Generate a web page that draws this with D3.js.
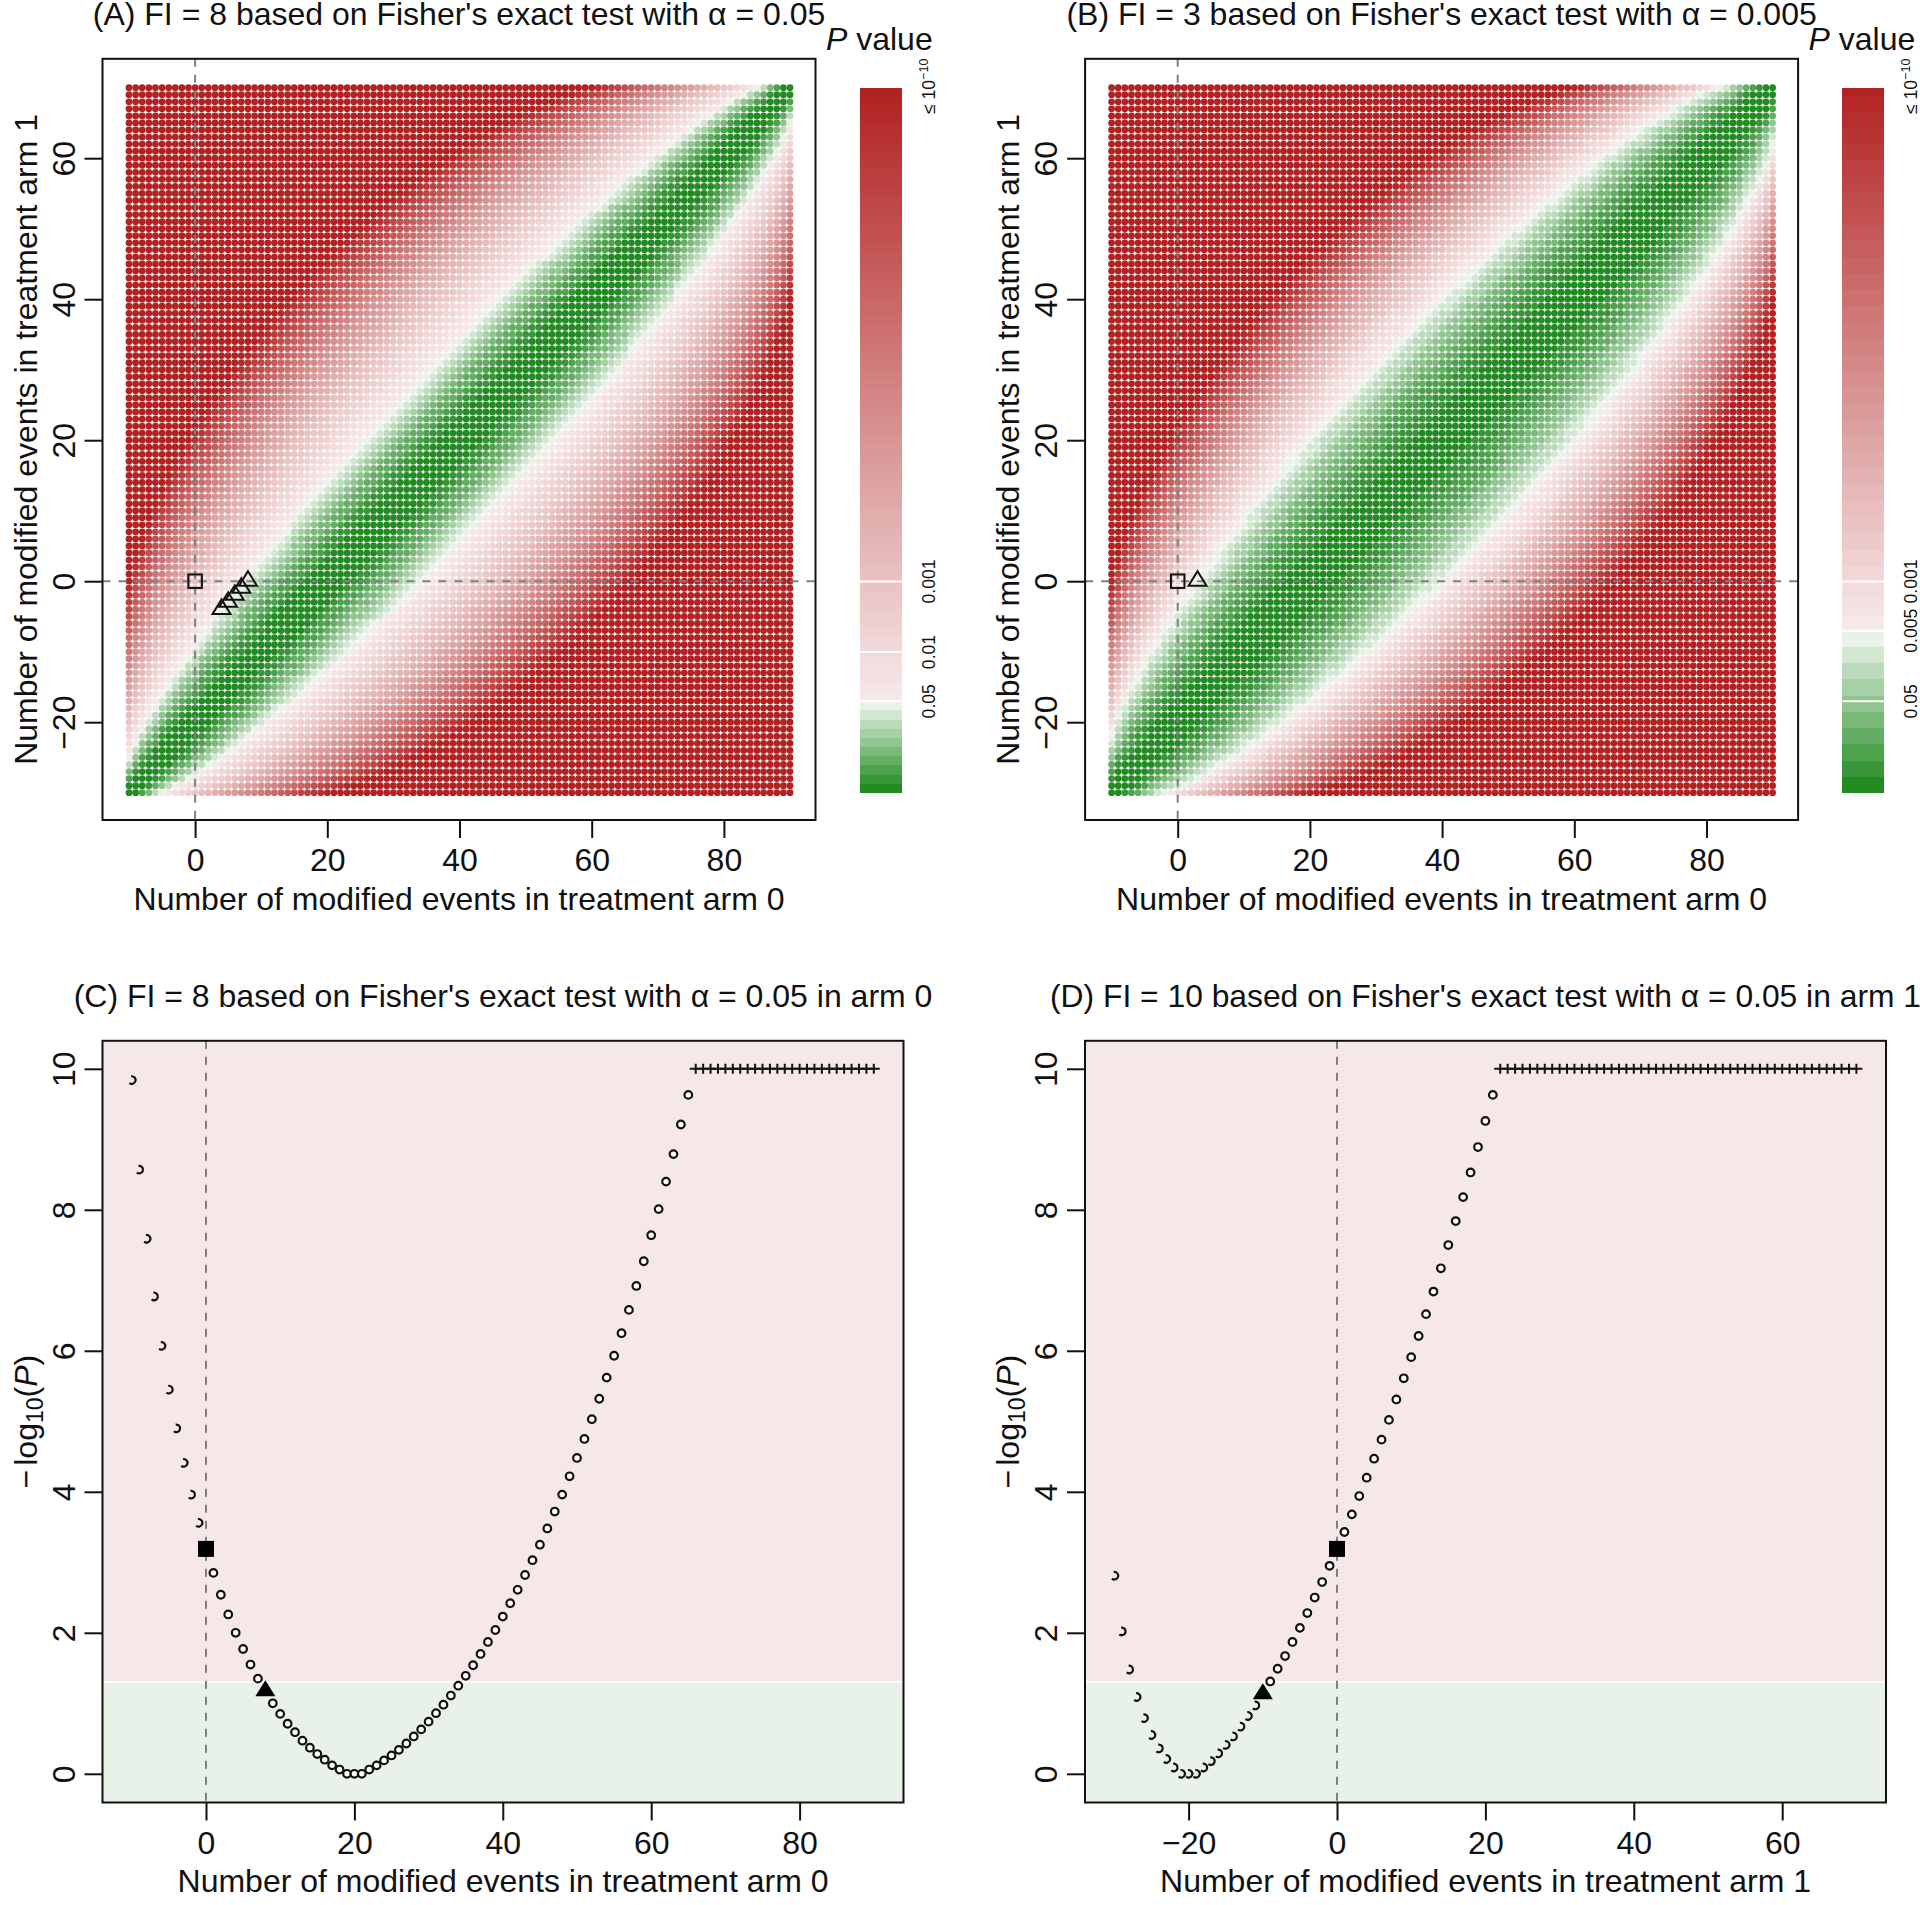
<!DOCTYPE html>
<html><head><meta charset="utf-8">
<script src="https://cdn.jsdelivr.net/npm/d3@7"></script>
<style>html,body{margin:0;background:#fff}svg{display:block}text{font-family:"Liberation Sans",Arial,sans-serif;fill:#111}</style>
</head><body><svg id="c" width="1920" height="1905"></svg>
<script>
const arm0Events = 10, arm1Events = 30, armSize = 100;
// -log10(P) x 100 for a events vs b events, row a, entries b = a, a+1, ... A missing entry means P <= 1e-10.
// The reference is mirror-symmetric, so only one quarter is listed. NOTE: these were not read off cell by cell:
// they were worked out beforehand with Fisher's exact test on 10/100 vs 30/100 and checked against the picture
// (square at 3.18, last circles, where the + marks start).
const neglogP = [
[0,0,30,61,92,123,154,185,217,249,281,314,346,379,413,446,480,514,548,583,618,653,689,724,760,797,834,871,908,946,984],
[0,0,21,43,67,93,119,146,173,202,230,260,289,319,350,381,413,445,477,509,542,576,610,644,679,713,749,785,821,857,894,932,969],
[0,0,17,35,55,77,100,123,148,173,200,226,254,282,310,339,369,399,429,460,492,524,556,589,622,656,690,724,759,794,830,867,903,941,978],
[0,0,14,30,48,67,87,109,131,154,178,203,228,255,281,309,337,365,394,423,453,484,515,547,579,611,644,677,711,746,780,816,852,888,925,962,1000],
[0,0,13,27,43,60,79,98,119,140,162,185,209,234,259,285,311,338,366,394,423,452,482,513,544,575,607,639,672,706,740,774,809,844,880,917,954,992],
[0,0,12,25,39,55,72,90,109,129,150,172,194,217,241,266,291,317,343,371,398,426,455,485,515,545,576,608,640,672,705,739,773,808,843,879,915,952,990],
[0,0,11,23,36,51,67,83,101,120,140,160,182,204,227,250,274,299,325,351,377,405,432,461,490,520,550,580,612,644,676,709,742,776,811,846,882,918,955,993],
[0,0,10,21,34,47,62,78,95,113,132,151,171,192,214,237,260,284,308,334,359,386,413,441,469,498,527,557,588,619,650,683,716,749,783,818,853,889,925,962,1000],
[0,0,9,20,32,45,59,74,90,107,125,143,163,183,204,225,248,271,295,319,344,370,396,423,450,479,507,537,566,597,628,660,692,725,758,792,827,862,898,935,972],
[0,0,9,19,30,43,56,70,85,102,119,136,155,175,195,216,237,260,283,306,331,356,381,407,434,462,490,518,548,578,608,639,671,703,736,770,804,839,875,911,947,985],
[0,0,9,18,29,41,53,67,82,97,113,131,149,167,187,207,228,250,272,295,319,343,368,394,420,447,474,502,531,561,591,621,652,684,717,750,784,818,853,889,926,963],
[0,0,8,17,28,39,51,64,78,93,109,125,143,161,180,199,220,241,263,285,308,332,356,381,407,433,460,488,516,545,575,605,636,667,699,732,765,800,834,870,906,943,980],
[0,0,8,17,27,37,49,62,75,90,105,121,138,155,174,193,213,233,254,276,299,322,346,370,396,421,448,475,503,531,561,590,621,652,684,716,749,783,817,852,888,925,962],
[0,0,8,16,26,36,48,60,73,87,101,117,133,150,168,187,206,226,247,268,290,313,336,361,385,411,437,464,491,519,548,577,607,638,669,701,734,768,802,837,872,909,946,984],
[0,0,7,16,25,35,46,58,71,84,98,113,129,146,163,181,200,220,240,261,283,305,328,352,376,401,427,453,480,508,536,565,595,625,656,688,721,754,788,823,858,894,931,969],
[0,0,7,15,24,34,45,56,68,82,96,110,126,142,159,177,195,214,234,255,276,298,320,344,368,392,418,444,470,498,526,554,584,614,645,676,709,742,775,810,845,881,918,956,994],
[0,0,7,15,24,33,43,55,67,79,93,107,122,138,155,172,190,209,228,249,270,291,313,336,360,384,409,435,461,488,516,544,574,604,634,665,698,730,764,798,833,869,906,944,982],
[0,0,7,15,23,32,42,53,65,77,91,105,119,135,151,168,186,204,223,243,264,285,307,330,353,377,402,427,453,480,507,536,564,594,625,656,688,720,754,788,823,859,895,933,971],
[0,0,7,14,22,32,41,52,63,76,89,102,117,132,148,165,182,200,219,238,259,280,301,324,347,370,395,420,446,472,499,527,556,586,616,647,679,711,744,778,813,849,886,923,962],
[0,0,7,14,22,31,40,51,62,74,87,100,114,129,145,161,178,196,215,234,254,275,296,318,341,364,388,413,439,465,492,520,549,578,608,639,670,703,736,770,805,841,877,915,953,992],
[0,0,6,14,22,30,40,50,61,73,85,98,112,127,142,158,175,193,211,230,250,270,291,313,335,359,383,407,433,459,486,513,542,571,601,632,663,695,728,762,797,833,870,907,946,985],
[0,0,6,13,21,30,39,49,60,71,83,96,110,125,140,156,172,189,207,226,246,266,287,308,331,354,377,402,427,453,480,507,536,565,594,625,656,689,722,756,791,826,863,901,939,979],
[0,0,6,13,21,29,38,48,59,70,82,95,108,122,137,153,169,186,204,223,242,262,283,304,326,349,373,397,422,448,474,502,530,559,589,619,651,683,716,750,785,821,857,895,934,974],
[0,0,6,13,20,29,38,47,58,69,81,93,107,121,135,151,167,184,201,220,239,259,279,300,322,345,368,392,417,443,470,497,525,554,583,614,645,678,711,745,780,816,852,890,929,969],
[0,0,6,13,20,28,37,47,57,68,79,92,105,119,133,149,165,181,199,217,236,255,276,297,319,341,364,388,413,439,465,492,520,549,579,609,641,673,706,740,775,811,848,886,926,966],
[0,0,6,13,20,28,37,46,56,67,78,91,104,117,132,147,162,179,196,214,233,252,273,294,315,338,361,385,410,435,461,489,516,545,575,605,637,669,702,737,772,808,845,883,923,963],
[0,0,6,12,20,27,36,45,55,66,77,89,102,116,130,145,161,177,194,212,230,250,270,291,312,335,358,382,406,432,458,485,513,542,571,602,633,666,699,733,769,805,843,881,921,961],
[0,0,6,12,19,27,36,45,55,65,76,88,101,114,128,143,159,175,192,210,228,247,267,288,310,332,355,379,403,429,455,482,510,539,568,599,631,663,697,731,767,803,841,879,919,961],
[0,0,6,12,19,27,35,44,54,64,76,87,100,113,127,142,157,173,190,208,226,245,265,286,307,329,352,376,401,426,452,479,507,536,566,597,628,661,695,729,765,802,840,879,919],
[0,0,6,12,19,27,35,44,53,64,75,86,99,112,126,140,156,172,189,206,224,243,263,284,305,327,350,374,398,424,450,477,505,534,564,595,627,659,693,728,764,801,839],
[0,0,6,12,19,26,34,43,53,63,74,86,98,111,125,139,154,170,187,204,223,242,261,282,303,325,348,372,396,422,448,475,503,532,562,593,625,658,692,727,764],
[0,0,6,12,19,26,34,43,52,63,73,85,97,110,124,138,153,169,186,203,221,240,260,280,301,324,346,370,395,420,447,474,502,531,561,592,625,658,692],
[0,0,6,12,18,26,34,43,52,62,73,84,96,109,123,137,152,168,184,202,220,239,258,279,300,322,345,369,393,419,445,473,501,530,561,592,624],
[0,0,5,12,18,26,34,42,52,62,72,84,96,108,122,136,151,167,183,201,219,238,257,278,299,321,344,368,392,418,445,472,500,530,560],
[0,0,5,11,18,25,33,42,51,61,72,83,95,108,121,135,150,166,183,200,218,237,256,277,298,320,343,367,392,417,444,472,500],
[0,0,5,11,18,25,33,42,51,61,71,83,94,107,121,135,150,165,182,199,217,236,255,276,297,319,342,366,391,417,444],
[0,0,5,11,18,25,33,41,51,60,71,82,94,107,120,134,149,165,181,198,216,235,255,275,297,319,342,366,391],
[0,0,5,11,18,25,33,41,50,60,71,82,94,106,120,134,148,164,181,198,216,235,254,275,296,319,342],
[0,0,5,11,18,25,33,41,50,60,70,81,93,106,119,133,148,164,180,197,215,234,254,275,296],
[0,0,5,11,18,25,32,41,50,60,70,81,93,105,119,133,148,163,180,197,215,234,254],
[0,0,5,11,18,25,32,41,50,59,70,81,93,105,119,133,148,163,180,197,215],
[0,0,5,11,17,25,32,41,50,59,70,81,92,105,118,132,147,163,180],
[0,0,5,11,17,24,32,40,49,59,69,81,92,105,118,132,147],
[0,0,5,11,17,24,32,40,49,59,69,80,92,105,118],
[0,0,5,11,17,24,32,40,49,59,69,80,92],
[0,0,5,11,17,24,32,40,49,59,69],
[0,0,5,11,17,24,32,40,49],
[0,0,5,11,17,24,32],
[0,0,5,11,17],
[0,0,5],
[0]];

const titles = ["(A) FI = 8 based on Fisher's exact test with α = 0.05","(B) FI = 3 based on Fisher's exact test with α = 0.005",
  "(C) FI = 8 based on Fisher's exact test with α = 0.05 in arm 0","(D) FI = 10 based on Fisher's exact test with α = 0.05 in arm 1"];
const xLabel0 = "Number of modified events in treatment arm 0", xLabel1 = "Number of modified events in treatment arm 1";
const yLabelMap = "Number of modified events in treatment arm 1";
const mapXTicks = [0,20,40,60,80], mapYTicks = [-20,0,20,40,60];
const pTicks = [0,2,4,6,8,10], arm0Ticks = [0,20,40,60,80], arm1Ticks = [-20,0,20,40,60];
const alphaA = 0.05, alphaB = 0.005;
const barLabelsA = [["0.05",0.05],["0.01",0.01],["0.001",0.001]];
const barLabelsB = [["0.05",0.05],["0.005",0.005],["0.001",0.001]];
const trianglesA = [[8,0],[7,-1],[6,-2],[5,-3],[4,-4]];
const trianglesB = [[3,0]];
const fiArm0 = 8, fiArm1 = -10;
const firstFullArm0 = 0, firstFullArm1 = -10;   // left of these the reference's circles are only crescents

function level(a,b){ let lo=Math.min(a,b), hi=Math.max(a,b);
  if(lo+hi>armSize){ [lo,hi]=[armSize-hi,armSize-lo]; }
  const v=neglogP[lo][hi-lo]; return v===undefined?1000:Math.min(v,1000); }
const logP=(x,y)=>level(x+arm0Events,y+arm1Events)/100;

const GREEN_DARK="#228b22", GREEN_PALE="#e8f2e8", RED_PALE="#f6e8e8", RED_DARK="#b22222";
const greens=d3.interpolateRgb(GREEN_DARK,GREEN_PALE), reds=d3.interpolateRgb(RED_PALE,RED_DARK);
function bandsFor(alpha){ const cut=-Math.log10(alpha), step=cut/10, n=Math.ceil((10-cut)/step);
  const out=[]; for(let i=0;i<10;i++)out.push({lo:i*step,hi:(i+1)*step,c:greens(i/9)});
  for(let i=0;i<n;i++)out.push({lo:cut+i*step,hi:Math.min(10,cut+(i+1)*step),c:reds(i/(n-1))});
  return {cut,step,n,out}; }
function fillOf(v,b){ if(v<b.cut)return greens(Math.min(9,Math.floor(v/b.step))/9);
  return reds(Math.min(b.n-1,Math.floor((v-b.cut)/b.step))/(b.n-1)); }

const svg=d3.select("#c");
const FS=32;
function axes(g,x,y,xt,yt,H){
  const tk=18;
  const gx=g.append("g").attr("transform",`translate(0,${H})`).call(d3.axisBottom(x).tickValues(xt).tickSize(tk).tickFormat(d3.format("d")));
  gx.select(".domain").remove(); gx.selectAll("line").attr("stroke","#111").attr("stroke-width",2);
  gx.selectAll("text").attr("y",51).attr("dy",0).attr("font-size",FS).attr("font-family","Liberation Sans").style("fill","#111");
  const gy=g.append("g").call(d3.axisLeft(y).tickValues(yt).tickSize(tk).tickFormat(d3.format("d")));
  gy.select(".domain").remove(); gy.selectAll("line").attr("stroke","#111").attr("stroke-width",2);
  gy.selectAll("text").attr("transform","rotate(-90)").attr("x",0).attr("y",-28).attr("dy",0).attr("text-anchor","middle")
    .attr("font-size",FS).attr("font-family","Liberation Sans").style("fill","#111");
}
function dashes(g,W,H,px,py){
  if(px!==null)g.append("line").attr("x1",px).attr("x2",px).attr("y1",0).attr("y2",H).attr("stroke","#808080").attr("stroke-width",2).attr("stroke-dasharray","8 8");
  if(py!==null)g.append("line").attr("x1",0).attr("x2",W).attr("y1",py).attr("y2",py).attr("stroke","#808080").attr("stroke-width",2).attr("stroke-dasharray","8 8");
}
const box=(g,W,H)=>g.append("rect").attr("width",W).attr("height",H).attr("fill","none").attr("stroke","#111").attr("stroke-width",2);
const tri=(s,h1,h2)=>`M0,${-h1}L${s},${h2}L${-s},${h2}Z`;

function mapPanel(dx,title,alpha,labels,tris){
  const L=102.5+dx,T=58.8,W=713,H=761.2;
  const g=svg.append("g").attr("transform",`translate(${L},${T})`);
  const x=d3.scaleLinear().domain([-10,90]).range([129-102.5,790-102.5]);
  const y=d3.scaleLinear().domain([-30,70]).range([792.7-T,87.7-T]);
  const b=bandsFor(alpha);
  const cells=[]; for(const xv of d3.range(-10,91)) for(const yv of d3.range(-30,71)) cells.push([xv,yv]);
  g.append("g").selectAll("circle").data(cells).join("circle").attr("cx",d=>x(d[0])).attr("cy",d=>y(d[1])).attr("r",3.4).attr("fill",d=>fillOf(logP(d[0],d[1]),b));
  dashes(g,W,H,x(0),y(0));
  g.append("rect").attr("x",x(0)-6.75).attr("y",y(0)-6.75).attr("width",13.5).attr("height",13.5).attr("fill","none").attr("stroke","#111").attr("stroke-width",2);
  g.append("g").selectAll("path").data(tris).join("path").attr("d",tri(9,10,4.5)).attr("transform",d=>`translate(${x(d[0])},${y(d[1])})`).attr("fill","none").attr("stroke","#111").attr("stroke-width",2);
  box(g,W,H); axes(g,x,y,mapXTicks,mapYTicks,H);
  svg.append("text").attr("x",L+W/2).attr("y",25).attr("text-anchor","middle").attr("font-size",FS).text(title);
  svg.append("text").attr("x",L+W/2).attr("y",T+H+90).attr("text-anchor","middle").attr("font-size",FS).text(xLabel0);
  svg.append("text").attr("transform",`translate(${L-66},${T+H/2}) rotate(-90)`).attr("text-anchor","middle").attr("font-size",FS).text(yLabelMap);
  // colour bar
  const bar=d3.scaleLinear().domain([0,10]).range([793,88]), bx=859.7+dx, bw=42;
  svg.append("g").selectAll("rect").data(b.out).join("rect").attr("x",bx).attr("width",bw).attr("y",d=>bar(d.hi)).attr("height",d=>bar(d.lo)-bar(d.hi)).attr("fill",d=>d.c).attr("shape-rendering","crispEdges");
  for(const [t,p] of labels){ const v=-Math.log10(p);
    svg.append("line").attr("x1",bx).attr("x2",bx+bw).attr("y1",bar(v)).attr("y2",bar(v)).attr("stroke","#fff").attr("stroke-width",2);
    svg.append("text").attr("transform",`translate(${934.7+dx},${bar(v)}) rotate(-90)`).attr("text-anchor","middle").attr("font-size",17.6).text(t);
  }
  const top=svg.append("text").attr("transform",`translate(${934.7+dx},114) rotate(-90)`).attr("font-size",17.6);
  top.append("tspan").text("≤ 10"); top.append("tspan").attr("dy",-7).attr("font-size",12.5).text("−10");
  const pv=svg.append("text").attr("x",932.7+dx).attr("y",50).attr("text-anchor","end").attr("font-size",FS);
  pv.append("tspan").attr("font-style","italic").text("P"); pv.append("tspan").text(" value");
}

function curvePanel(L,title,titleSize,label,domain,xt,series,fi,firstFull){
  const T=1040.8,W=801,H=761.7;
  const g=svg.append("g").attr("transform",`translate(${L},${T})`);
  const pxu=7.42, zero=domain.zero;
  const x=d3.scaleLinear().domain([domain.from,domain.to]).range([zero+domain.from*pxu,zero+domain.to*pxu]);
  const y=d3.scaleLinear().domain([0,10]).range([1773.8-T,1068.8-T]);
  const yc=y(-Math.log10(alphaA));
  g.append("rect").attr("width",W).attr("height",yc).attr("fill","#f6e8e8");
  g.append("rect").attr("y",yc).attr("width",W).attr("height",H-yc).attr("fill","#e8f2e8");
  g.append("line").attr("x1",0).attr("x2",W).attr("y1",yc).attr("y2",yc).attr("stroke","#fff").attr("stroke-width",2);
  dashes(g,W,H,x(0),null);
  const plain=series.filter(d=>d[1]<10);
  const arc=d3.arc().innerRadius(3.8).outerRadius(3.8).startAngle(-10*Math.PI/180).endAngle(220*Math.PI/180);
  g.append("g").selectAll("path.c").data(plain.filter(d=>d[0]<firstFull)).join("path").attr("class","c").attr("d",arc()).attr("transform",d=>`translate(${x(d[0])},${y(d[1])})`).attr("fill","none").attr("stroke","#111").attr("stroke-width",2.2);
  g.append("g").selectAll("circle").data(plain.filter(d=>d[0]>=firstFull&&d[0]!==0&&d[0]!==fi)).join("circle").attr("cx",d=>x(d[0])).attr("cy",d=>y(d[1])).attr("r",3.8).attr("fill","#fff").attr("stroke","#111").attr("stroke-width",2.2);
  g.append("g").selectAll("path.p").data(series.filter(d=>d[1]>=10)).join("path").attr("class","p").attr("d","M-6,0H6M0,-5V5").attr("transform",d=>`translate(${x(d[0])},${y(10)})`).attr("fill","none").attr("stroke","#111").attr("stroke-width",2);
  const at=v=>series.find(d=>d[0]===v);
  g.append("rect").attr("x",x(0)-8).attr("y",y(at(0)[1])-8).attr("width",16).attr("height",16).attr("fill","#000");
  g.append("path").attr("d",tri(10,11,5)).attr("transform",`translate(${x(fi)},${y(at(fi)[1])})`).attr("fill","#000");
  box(g,W,H); axes(g,x,y,xt,pTicks,H);
  svg.append("text").attr("x",L+W/2).attr("y",1007).attr("text-anchor","middle").attr("font-size",titleSize).text(title);
  svg.append("text").attr("x",L+W/2).attr("y",T+H+89).attr("text-anchor","middle").attr("font-size",FS).text(label);
  const yl=svg.append("text").attr("transform",`translate(${L-66},${T+H/2}) rotate(-90)`).attr("text-anchor","middle").attr("font-size",FS);
  yl.append("tspan").text("−"); yl.append("tspan").attr("dx",4).text("log"); yl.append("tspan").attr("dy",6).attr("font-size",23).text("10");
  yl.append("tspan").attr("dy",-6).text("("); yl.append("tspan").attr("font-style","italic").text("P"); yl.append("tspan").text(")");
}

mapPanel(0,titles[0],alphaA,barLabelsA,trianglesA);
mapPanel(982.6,titles[1],alphaB,barLabelsB,trianglesB);
const seriesArm0=d3.range(-10,91).map(v=>[v,logP(v,0)]);
const seriesArm1=d3.range(-30,71).map(v=>[v,logP(0,v)]);
curvePanel(102.5,titles[2],FS,xLabel0,{from:-10,to:90,zero:103.5},arm0Ticks,seriesArm0,fiArm0,firstFullArm0);
curvePanel(1085,titles[3],31.8,xLabel1,{from:-30,to:70,zero:252},arm1Ticks,seriesArm1,fiArm1,firstFullArm1);
</script></body></html>
